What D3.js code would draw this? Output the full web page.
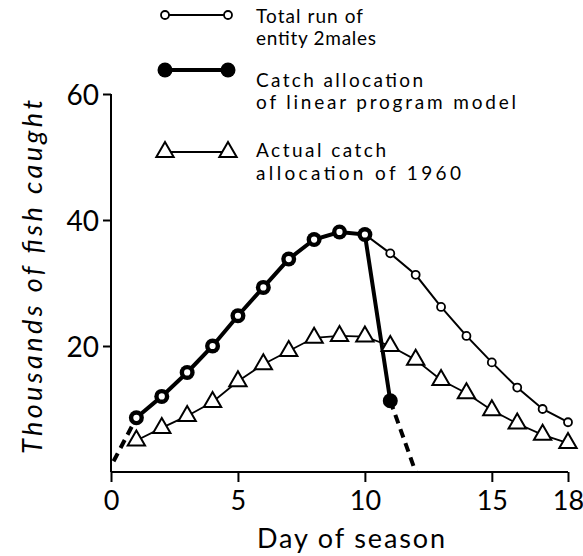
<!DOCTYPE html>
<html><head><meta charset="utf-8">
<script src="https://cdn.jsdelivr.net/npm/d3@7"></script>
<style>body{margin:0;background:#fff}svg{display:block}text{font-family:Lato,"DejaVu Sans",sans-serif;fill:#000}</style>
</head><body>
<script>
const days = d3.range(1, 19);
const totalRun = [8.6,12.0,15.8,20.0,24.8,29.3,33.8,36.9,38.1,37.7,34.7,31.3,26.2,21.6,17.4,13.4,10.0,7.9];
const catchLP = [8.6,12.0,15.8,20.0,24.8,29.3,33.8,36.9,38.1,37.7,11.3];
const catchLPDashStart = [[0.1,1.7],[1,8.6]];
const catchLPDashEnd = [[11,11.3],[12,0]];
const actual1960 = [5.0,7.0,8.9,11.1,14.4,17.1,19.2,21.3,21.6,21.5,20.0,17.8,14.6,12.5,9.8,7.7,5.9,4.6];
const xTicks = [0,5,10,15,18];
const yTicks = [20,40,60];
const legendLabels = [["Total run of","entity 2males"],["Catch allocation","of linear program model"],["Actual catch","allocation of 1960"]];

const W=583,H=556;
const svg=d3.select("body").append("svg").attr("width",W).attr("height",H);
const x=d3.scaleLinear().domain([0,18]).range([111,568]);
const y=d3.scaleLinear().domain([0,60]).range([472,94]);

// axes
const xAxis=svg.append("g").attr("transform","translate(0,472)")
  .call(d3.axisBottom(x).tickValues(xTicks).tickSize(10).tickPadding(9).tickFormat(d3.format("d")));
xAxis.select(".domain").attr("d",`M${x(0)},0H${x(18)}`).attr("stroke-width",2);
xAxis.selectAll(".tick line").attr("stroke-width",2);
xAxis.selectAll(".tick text").attr("font-size",27).attr("dy","0.71em");
const yAxis=svg.append("g").attr("transform","translate(111,0)")
  .call(d3.axisLeft(y).tickValues(yTicks).tickSize(8).tickPadding(4));
yAxis.select(".domain").attr("d",`M0,${y(60)}V${y(0)}`).attr("stroke-width",2);
yAxis.selectAll(".tick line").attr("stroke-width",2);
yAxis.selectAll(".tick text").attr("font-size",28).attr("dy","0.36em");
svg.selectAll(".tick text").style("font-family","Lato,sans-serif");

svg.append("text").attr("x",351).attr("y",548).attr("text-anchor","middle")
  .attr("font-size",27).attr("textLength",188).attr("lengthAdjust","spacing").text("Day of season");
svg.append("text").attr("transform","translate(42,277) rotate(-90)").attr("text-anchor","middle")
  .attr("font-size",27).attr("font-style","italic").attr("textLength",354).attr("lengthAdjust","spacing")
  .text("Thousands of fish caught");

const line=d3.line().x(d=>x(d[0])).y(d=>y(d[1]));
const pts=(arr)=>arr.map((v,i)=>[days[i],v]);

// actual 1960
svg.append("path").attr("d",line(pts(actual1960))).attr("fill","none").attr("stroke","#000").attr("stroke-width",1.8);
// catch LP
svg.append("path").attr("d",line(pts(catchLP))).attr("fill","none").attr("stroke","#000").attr("stroke-width",4);
[catchLPDashStart,catchLPDashEnd].forEach(seg=>svg.append("path").attr("d",line(seg)).attr("fill","none")
  .attr("stroke","#000").attr("stroke-width",4).attr("stroke-dasharray","9,6"));
// total run line
svg.append("path").attr("d",line(pts(totalRun))).attr("fill","none").attr("stroke","#000").attr("stroke-width",2);

const tri=d3.symbol().type(d3.symbolTriangle).size(130);
svg.append("g").selectAll("path").data(pts(actual1960)).join("path")
  .attr("transform",d=>`translate(${x(d[0])},${y(d[1])})`).attr("d",tri)
  .attr("fill","#fff").attr("stroke","#000").attr("stroke-width",2);
svg.append("g").selectAll("circle").data(pts(catchLP)).join("circle")
  .attr("cx",d=>x(d[0])).attr("cy",d=>y(d[1])).attr("r",7.5).attr("fill","#000");
svg.append("g").selectAll("circle").data(pts(totalRun)).join("circle")
  .attr("cx",d=>x(d[0])).attr("cy",d=>y(d[1])).attr("r",4).attr("fill","#fff").attr("stroke","#000").attr("stroke-width",1.8);

// legend
const lx1=165,lx2=228,tx=256;
const lg=svg.append("g");
lg.append("line").attr("x1",lx1).attr("x2",lx2).attr("y1",15).attr("y2",15).attr("stroke","#000").attr("stroke-width",1.8);
[lx1,lx2].forEach(cx=>lg.append("circle").attr("cx",cx).attr("cy",15).attr("r",4).attr("fill","#fff").attr("stroke","#000").attr("stroke-width",1.8));
lg.append("line").attr("x1",lx1).attr("x2",lx2).attr("y1",70).attr("y2",70).attr("stroke","#000").attr("stroke-width",4);
[lx1,lx2].forEach(cx=>lg.append("circle").attr("cx",cx).attr("cy",70).attr("r",7.5).attr("fill","#000"));
lg.append("line").attr("x1",lx1).attr("x2",lx2).attr("y1",152).attr("y2",152).attr("stroke","#000").attr("stroke-width",1.8);
[lx1,lx2].forEach(cx=>lg.append("path").attr("transform",`translate(${cx},152)`).attr("d",tri).attr("fill","#fff").attr("stroke","#000").attr("stroke-width",2));

const baselines=[[23,45],[87,109],[157,180]];
const lens=[[107,120],[167,260],[130,205]];
legendLabels.forEach((ls,i)=>ls.forEach((t,j)=>lg.append("text").attr("x",tx).attr("y",baselines[i][j])
  .attr("font-size",19).attr("textLength",lens[i][j]).attr("lengthAdjust","spacing").text(t)));
</script>
</body></html>
